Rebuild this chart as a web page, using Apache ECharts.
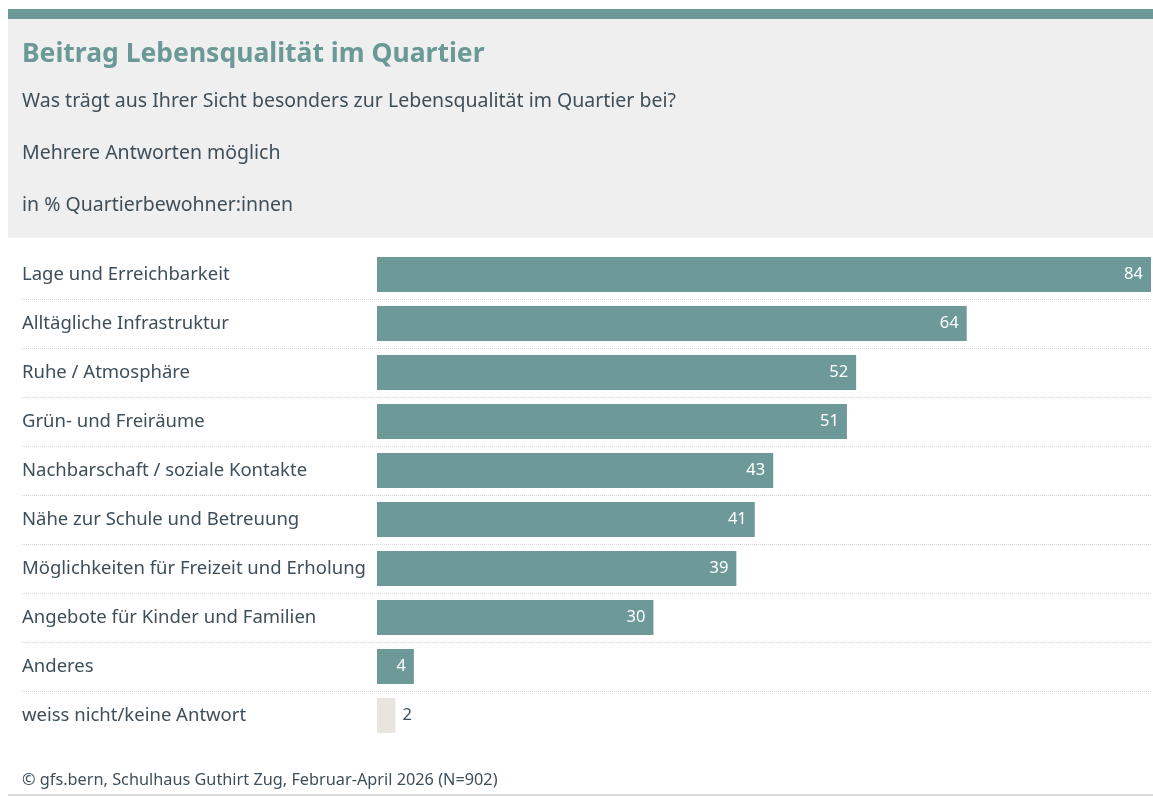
<!DOCTYPE html>
<html><head><meta charset="utf-8">
<script src="https://cdn.jsdelivr.net/npm/echarts@6/dist/echarts.min.js"></script>
<style>html,body{margin:0;padding:0;background:#fff}#c{width:1153px;height:796px}</style>
</head><body><div id="c"></div>
<script>
const categories = ["Lage und Erreichbarkeit","Alltägliche Infrastruktur","Ruhe / Atmosphäre","Grün- und Freiräume","Nachbarschaft / soziale Kontakte","Nähe zur Schule und Betreuung","Möglichkeiten für Freizeit und Erholung","Angebote für Kinder und Familien","Anderes","weiss nicht/keine Antwort"];
const values = [84,64,52,51,43,41,39,30,4,2];
const neutralCategory = "weiss nicht/keine Antwort";

const FONT = "'Noto Sans', 'Open Sans', sans-serif";
const TEAL = "#6d9a98";
const TEXT = "#3e4f5a";

const seriesData = categories.map((c, i) => {
  const d = { value: values[i] };
  if (c === neutralCategory) {
    d.itemStyle = { color: "#e8e4e0" };
    d.label = { position: "right", color: TEXT, distance: 7 };
  }
  return d;
});

const chart = echarts.init(document.getElementById('c'), null, {renderer: 'canvas'});
chart.setOption({
  animation: false,
  backgroundColor: "#ffffff",
  graphic: [
    { type: 'rect', shape: { x: 8, y: 9, width: 1145, height: 10 }, style: { fill: TEAL }, z: -1 },
    { type: 'rect', shape: { x: 8, y: 19, width: 1145, height: 219 }, style: { fill: "#efefef" }, z: -2 },
    { type: 'rect', shape: { x: 8, y: 794, width: 1145, height: 2 }, style: { fill: "#dcdcdc" }, z: -1 }
  ],
  title: [
    { text: "Beitrag Lebensqualität im Quartier", left: 22, top: 41, padding: 0, textStyle: { fontFamily: FONT, fontSize: 26.5, fontWeight: 'bold', color: "#6a9996" } },
    { text: "Was trägt aus Ihrer Sicht besonders zur Lebensqualität im Quartier bei?", left: 22, top: 91, padding: 0, textStyle: { fontFamily: FONT, fontSize: 19.5, fontWeight: 'normal', color: TEXT } },
    { text: "Mehrere Antworten möglich", left: 22, top: 143, padding: 0, textStyle: { fontFamily: FONT, fontSize: 19.5, fontWeight: 'normal', color: TEXT } },
    { text: "in % Quartierbewohner:innen", left: 22, top: 195, padding: 0, textStyle: { fontFamily: FONT, fontSize: 19.5, fontWeight: 'normal', color: TEXT } },
    { text: "© gfs.bern, Schulhaus Guthirt Zug, Februar-April 2026 (N=902)", left: 22, top: 772, padding: 0, textStyle: { fontFamily: FONT, fontSize: 16.3, fontWeight: 'normal', color: TEXT } }
  ],
  grid: [
    { left: 377, right: 2, top: 250, height: 490, containLabel: false },
    { left: 22, right: 2, top: 299, height: 392, containLabel: false }
  ],
  xAxis: [
    { type: 'value', gridIndex: 0, min: 0, max: 84, show: false, splitLine: { show: false } },
    { type: 'value', gridIndex: 1, min: 0, max: 1, show: false }
  ],
  yAxis: [
    { type: 'category', gridIndex: 0, data: categories, inverse: true,
      axisLine: { show: false }, axisTick: { show: false }, splitLine: { show: false },
      axisLabel: { align: 'left', margin: 355, fontFamily: FONT, fontSize: 18.5, color: TEXT } },
    { type: 'value', gridIndex: 1, min: 0, max: 8, interval: 1,
      axisLine: { show: false }, axisTick: { show: false }, axisLabel: { show: false },
      splitLine: { show: true, lineStyle: { type: 'dotted', color: '#d6d6d6', width: 1 } } }
  ],
  series: [{
    type: 'bar', xAxisIndex: 0, yAxisIndex: 0, data: seriesData,
    barCategoryGap: '29%',
    itemStyle: { color: TEAL },
    label: { show: true, position: 'insideRight', distance: 8, color: '#ffffff', fontFamily: FONT, fontSize: 16.5 }
  }]
});
</script></body></html>
